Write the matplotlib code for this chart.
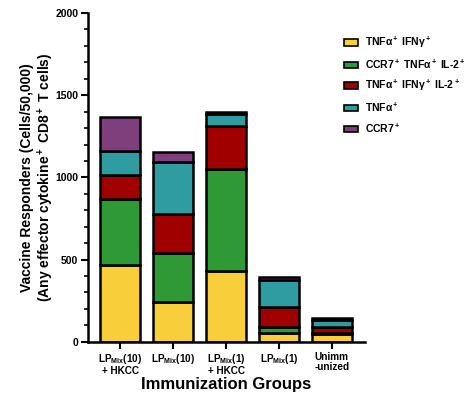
import numpy as np
import matplotlib
matplotlib.use('Agg')
from matplotlib import pyplot as plt
from matplotlib.patches import Patch
from matplotlib.ticker import MultipleLocator

plt.rcParams['font.family'] = ['Liberation Sans', 'DejaVu Sans']
plt.rcParams['font.weight'] = 'bold'
plt.rcParams['axes.labelweight'] = 'bold'
plt.rcParams['mathtext.fontset'] = 'custom'
plt.rcParams['mathtext.rm'] = 'Liberation Sans:bold'
plt.rcParams['mathtext.bf'] = 'Liberation Sans:bold'
plt.rcParams['mathtext.it'] = 'Liberation Sans:italic:bold'
plt.rcParams['mathtext.sf'] = 'Liberation Sans'

groups = ['LP$_{\\mathsf{Mix}}$(10)\n+ HKCC', 'LP$_{\\mathsf{Mix}}$(10)',
          'LP$_{\\mathsf{Mix}}$(1)\n+ HKCC', 'LP$_{\\mathsf{Mix}}$(1)', 'Unimm\n-unized']

# cells per 50,000 CD8+ T cells, stacked bottom to top
tnf_ifn = [467, 240, 431, 54, 45]
ccr7_tnf_il2 = [400, 300, 617, 37, 10]
tnf_ifn_il2 = [150, 236, 267, 121, 35]
tnf_only = [145, 317, 70, 165, 45]
ccr7_only = [205, 62, 10, 16, 10]

series = [tnf_ifn, ccr7_tnf_il2, tnf_ifn_il2, tnf_only, ccr7_only]
names = ['TNF\u03b1$^+$ IFN\u03b3$^+$',
         'CCR7$^+$ TNF\u03b1$^+$ IL-2$^+$',
         'TNF\u03b1$^+$ IFN\u03b3$^+$ IL-2$^+$',
         'TNF\u03b1$^+$',
         'CCR7$^+$']
colors = ['#F9CE3B', '#2F9A35', '#A00000', '#2E9CA0', '#7F3F7D']

fig = plt.figure(figsize=(4.74, 4.05), dpi=100)
ax = fig.add_axes([0.186, 0.156, 0.584, 0.812])

x = np.arange(len(groups))
bottom = np.zeros(len(groups))
for vals, c in zip(series, colors):
    ax.bar(x, vals, width=0.76, bottom=bottom, color=c, edgecolor='black', linewidth=1.8)
    bottom += np.array(vals)

ax.set_xlim(-0.61, 4.63)
ax.set_ylim(0, 2000)
ax.spines['top'].set_visible(False)
ax.spines['right'].set_visible(False)
ax.spines['left'].set_linewidth(1.8)
ax.spines['bottom'].set_linewidth(1.8)
ax.yaxis.set_major_locator(MultipleLocator(500))
ax.yaxis.set_minor_locator(MultipleLocator(100))
ax.tick_params(axis='both', which='major', width=1.5, length=5, labelsize=7.5)
ax.tick_params(axis='x', pad=2)
ax.tick_params(axis='y', pad=2)
ax.tick_params(axis='y', which='minor', width=1.2, length=3)
ax.set_xticks(x)
ax.set_xticklabels(groups, fontsize=7.2, linespacing=1.05)

ax.set_ylabel('Vaccine Responders (Cells/50,000)\n(Any effector cytokine$^+$ CD8$^+$ T cells)',
              fontsize=10, linespacing=1.15)
ax.yaxis.set_label_coords(-0.115, 0.5)
ax.set_xlabel('Immunization Groups', fontsize=12, labelpad=1)

handles = [Patch(facecolor=c, edgecolor='black', linewidth=1.2) for c in colors]
fig.legend(handles, names, loc='upper left', bbox_to_anchor=(0.705, 0.937),
           frameon=False, fontsize=7.5, handlelength=1.4, handleheight=0.55,
           handletextpad=0.7, labelspacing=0.7)

fig.savefig('out.png', dpi=100)
